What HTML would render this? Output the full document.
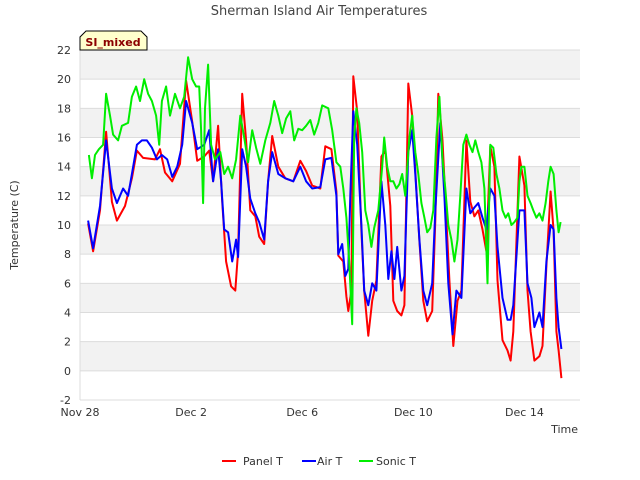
<!DOCTYPE html>
<html><head><meta charset="utf-8"><style>
body{margin:0;background:#fff;}
svg{display:block;font-family:"DejaVu Sans","Liberation Sans",sans-serif;}
</style></head><body>
<svg id="chart" width="640" height="480">
<text x="319" y="15" text-anchor="middle" font-size="13" fill="#444">Sherman Island Air Temperatures</text>
<g id="bands"></g><g id="grid"></g><g id="yticks"></g><g id="xticks"></g><g id="series"></g>
<text x="18" y="225" transform="rotate(-90 18 225)" text-anchor="middle" font-size="11" fill="#333">Temperature (C)</text>
<text x="578" y="433" text-anchor="end" font-size="11" fill="#333">Time</text>
<g>
<path d="M80,50 L80,37 L86,31 L141,31 L147,37 L147,50 Z" fill="#ffffcc" stroke="#000" stroke-width="1"/>
<text x="113" y="46" text-anchor="middle" font-size="11" font-weight="bold" fill="#8b0000">SI_mixed</text>
</g>
<g>
<g><line x1="222" y1="461" x2="236" y2="461" stroke="#ff0000" stroke-width="2"/><text x="243" y="465" font-size="11" fill="#333">Panel T</text></g>
<g><line x1="302" y1="461" x2="316" y2="461" stroke="#0000ff" stroke-width="2"/><text x="317" y="465" font-size="11" fill="#333">Air T</text></g>
<g><line x1="359" y1="461" x2="373" y2="461" stroke="#00ee00" stroke-width="2"/><text x="376" y="465" font-size="11" fill="#333">Sonic T</text></g>
</g>
</svg>
<script>
const yTicks=[-2,0,2,4,6,8,10,12,14,16,18,20,22];
const xTickDays=[0,4,8,12,16];
const xTickLabels=["Nov 28","Dec 2","Dec 6","Dec 10","Dec 14"];
const panelDays=[.29,.47,.72,.94,1.15,1.33,1.62,1.87,2.05,2.27,2.70,2.88,3.06,3.32,3.60,3.82,4.04,4.22,4.47,4.65,4.79,4.97,5.12,5.26,5.44,5.59,5.69,5.84,5.98,6.13,6.31,6.45,6.63,6.77,6.92,7.14,7.39,7.68,7.93,8.14,8.36,8.65,8.83,9.05,9.23,9.30,9.48,9.59,9.66,9.77,9.84,9.98,10.13,10.23,10.38,10.52,10.67,10.85,10.99,11.17,11.28,11.42,11.57,11.68,11.82,11.96,12.07,12.22,12.36,12.50,12.68,12.79,12.90,13.05,13.19,13.30,13.44,13.59,13.73,13.91,14.05,14.20,14.34,14.49,14.63,14.77,14.92,15.03,15.21,15.39,15.50,15.60,15.82,16.00,16.11,16.22,16.36,16.54,16.65,16.79,16.94,17.05,17.15,17.23,17.33];
const panelT=[10.1,8.2,11,16.4,11.6,10.3,11.3,13.2,15.1,14.6,14.5,15.2,13.6,13,14.2,19.9,17.1,14.4,14.7,15.1,13,16.8,11.6,7.5,5.8,5.5,8.2,19,15.8,11,10.6,9.2,8.7,13,16.1,14,13.2,13,14.4,13.7,12.7,12.5,15.4,15.2,12.3,7.9,7.5,5.1,4.1,5.5,20.2,17.8,9.6,5.5,2.4,4.8,6.2,14.7,15.1,11.3,4.8,4.1,3.8,4.5,19.7,17.5,13.7,8.9,4.8,3.4,4.1,10.3,19,15.8,10.3,6.2,1.7,4.8,5.5,15.8,11.6,10.6,11,9.7,8.2,15.4,14,6.2,2.1,1.4,0.7,2.7,14.7,12.7,5.5,2.7,0.7,1,1.7,7.2,12.3,9.6,2.7,1.4,-0.5];
const airDays=[.29,.47,.72,.94,1.15,1.33,1.55,1.73,1.87,2.05,2.23,2.41,2.59,2.77,2.95,3.14,3.32,3.50,3.68,3.82,4.04,4.22,4.47,4.65,4.79,4.97,5.08,5.19,5.33,5.48,5.62,5.69,5.84,5.98,6.13,6.31,6.45,6.63,6.77,6.92,7.14,7.39,7.68,7.93,8.14,8.36,8.65,8.83,9.05,9.23,9.30,9.44,9.55,9.66,9.73,9.84,9.98,10.13,10.23,10.38,10.52,10.67,10.85,10.99,11.10,11.21,11.32,11.42,11.57,11.68,11.82,11.96,12.07,12.22,12.36,12.50,12.68,12.79,12.97,13.12,13.26,13.41,13.55,13.73,13.91,14.05,14.20,14.34,14.49,14.63,14.77,14.92,15.03,15.21,15.39,15.50,15.60,15.82,16.00,16.11,16.25,16.36,16.54,16.65,16.79,16.94,17.05,17.15,17.23,17.33];
const airT=[10.3,8.4,11.3,15.8,12.5,11.5,12.5,12,13.5,15.5,15.8,15.8,15.3,14.5,14.8,14.5,13.3,14,15.5,18.5,17,15.2,15.5,16.5,13,15.2,13,9.7,9.5,7.5,9,7.8,15.2,14,11.8,10.8,10.2,9,13,15,13.5,13.2,13,14,13,12.5,12.6,14.5,14.6,12,8,8.7,6.5,7,12,17.8,15.5,10,5.5,4.5,6,5.5,13,10,6.3,8.2,6.3,8.5,5.5,6.5,15,16.5,13.5,9,5.5,4.5,6,11,17,12,6,2.5,5.5,5,12.5,10.8,11.2,11.5,10.5,9.7,12.5,12,8.5,5,3.5,3.5,4.5,11,11,6,5,3,4,3,7.5,10,9.7,5,3,1.5];
const sonicDays=[.32,.43,.54,.68,.83,.94,1.08,1.19,1.37,1.51,1.73,1.87,2.02,2.16,2.31,2.45,2.59,2.74,2.85,2.95,3.10,3.24,3.42,3.60,3.75,3.89,4.04,4.18,4.29,4.36,4.43,4.50,4.61,4.72,4.86,5.05,5.19,5.33,5.48,5.62,5.77,5.91,6.05,6.20,6.34,6.49,6.67,6.85,6.99,7.14,7.28,7.42,7.57,7.71,7.86,8.00,8.14,8.29,8.43,8.58,8.72,8.94,9.08,9.23,9.37,9.48,9.59,9.69,9.80,9.87,9.95,10.05,10.16,10.27,10.38,10.49,10.59,10.74,10.88,10.95,11.06,11.17,11.28,11.39,11.50,11.60,11.71,11.86,11.96,12.07,12.18,12.29,12.40,12.50,12.61,12.72,12.83,12.94,13.05,13.15,13.26,13.37,13.48,13.59,13.69,13.80,13.91,14.02,14.13,14.23,14.34,14.45,14.56,14.67,14.77,14.88,14.99,15.10,15.21,15.32,15.42,15.53,15.64,15.75,15.82,15.89,16.00,16.11,16.22,16.32,16.43,16.54,16.65,16.76,16.86,16.94,17.05,17.15,17.23,17.30];
const sonicT=[14.8,13.2,14.8,15.2,15.5,19,17.5,16.2,15.8,16.8,17,18.8,19.5,18.5,20,19,18.5,17.5,15.5,18.5,19.5,17.5,19,18,18.8,21.5,20,19.5,19.5,16.5,11.5,18,21,15.5,14.5,15,13.5,14,13.2,14.5,17.5,16,14.3,16.5,15.3,14.2,15.8,17,18.5,17.5,16.3,17.3,17.8,15.8,16.6,16.5,16.8,17.2,16.2,17,18.2,18,16.5,14.3,14,12.5,10.5,7.5,3.2,16,18,17,15,11,10,8.5,9.8,11,14,16,14,13,13,12.5,12.8,13.5,12,16,17.5,15,13.5,11.5,10.5,9.5,9.8,11,16,18.8,14.5,12.5,10,9,7.5,9,12,15.5,16.2,15.5,15,15.8,15,14.3,12.5,6,15.5,15.3,13.5,12.5,11,10.5,10.8,10,10.2,10.5,13,14,14,12,11.5,11,10.5,10.8,10.3,11.5,13,14,13.5,11,9.5,10.2];

const L=80,R=580,T=50,B=400,D0=0,D1=18,V0=-2,V1=22;
const xs=d=>L+(d-D0)/(D1-D0)*(R-L);
const ys=v=>B-(v-V0)/(V1-V0)*(B-T);
const NS="http://www.w3.org/2000/svg";
function mk(tag,attrs,parent){const e=document.createElementNS(NS,tag);for(const k in attrs)e.setAttribute(k,attrs[k]);document.getElementById(parent).appendChild(e);return e;}
for(let v=V0;v<V1;v+=2){
  if(((v+2)/2)%2===1){
    const r=mk('rect',{x:L,y:ys(v+2),width:R-L,height:ys(v)-ys(v+2),fill:'#f2f2f2'},'bands');
    
    
  }
}
yTicks.forEach(v=>{
  const g=mk('line',{x1:L,x2:R,y1:ys(v),y2:ys(v),stroke:'#dcdcdc','stroke-width':1},'grid');
  
  
  const t=mk('text',{x:L-9,y:ys(v)+4,'text-anchor':'end','font-size':11,fill:'#333'},'yticks');
  t.textContent=v;
  
  
});
const ax=mk('line',{x1:L,x2:L,y1:T,y2:B,stroke:'#dcdcdc'},'grid');


xTickDays.forEach((d,i)=>{
  const t=mk('text',{x:xs(d),y:416,'text-anchor':'middle','font-size':11,fill:'#333'},'xticks');
  t.textContent=xTickLabels[i];
  
  
});
function line(days,vals,color,name){
  const p=mk('polyline',{points:days.map((d,i)=>xs(d).toFixed(1)+','+ys(vals[i]).toFixed(1)).join(' '),fill:'none',stroke:color,'stroke-width':2,'stroke-linejoin':'round'},'series');
  
  
}
line(panelDays,panelT,'#ff0000','panel-t-line');
line(airDays,airT,'#0000ff','air-t-line');
line(sonicDays,sonicT,'#00ee00','sonic-t-line');
</script>
</body></html>
